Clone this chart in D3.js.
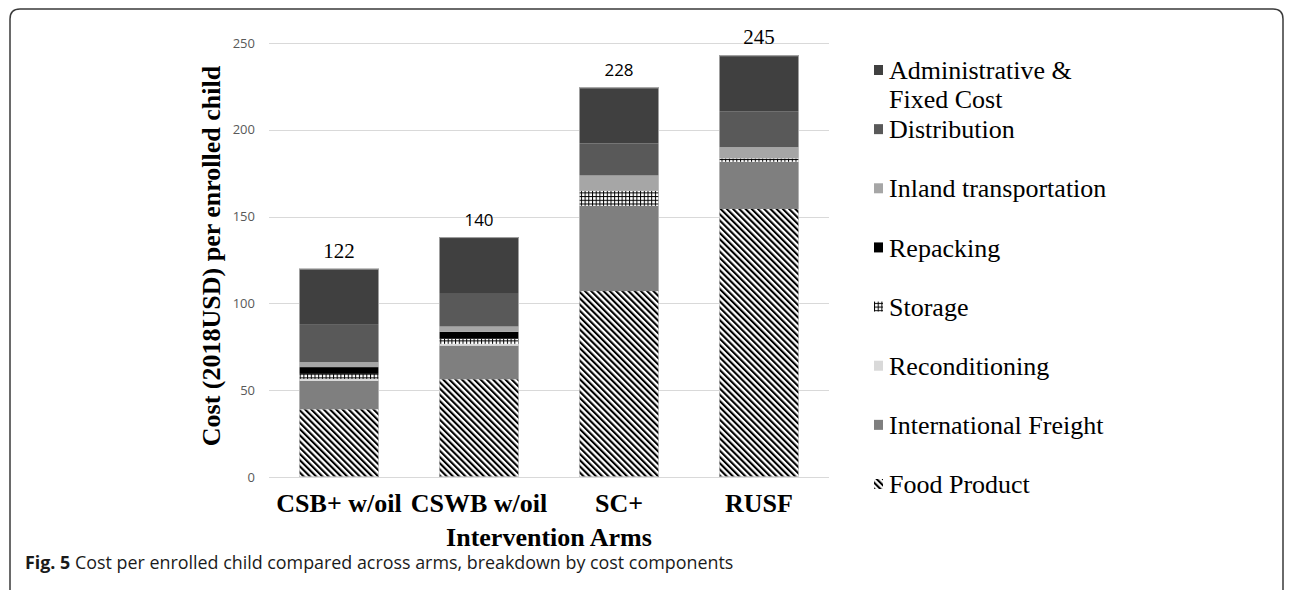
<!DOCTYPE html>
<html>
<head>
<meta charset="utf-8">
<script src="https://cdn.jsdelivr.net/npm/d3@7"></script>
<style>
  html, body { margin: 0; padding: 0; background: #fff; }
  svg { display: block; }
</style>
</head>
<body>
<svg id="chart" width="1292" height="590"></svg>
<script>
// ---------------- DATA ----------------
const categories = ["CSB+ w/oil", "CSWB w/oil", "SC+", "RUSF"];
const seriesNames = [
  "Food Product",
  "International Freight",
  "Reconditioning",
  "Storage",
  "Repacking",
  "Inland transportation",
  "Distribution",
  "Administrative & Fixed Cost"
];
const foodProduct          = [39.0, 56.3, 107.1, 154.4];
const internationalFreight = [16.3, 19.4, 49.1, 27.2];
const reconditioning       = [1.2, 1.0, 0.0, 0.0];
const storage              = [2.9, 2.9, 8.6, 1.9];
const repacking            = [3.9, 4.0, 0.0, 0.0];
const inlandTransportation = [2.9, 3.1, 8.9, 6.5];
const distribution         = [21.5, 18.8, 18.4, 20.7];
const administrativeFixed  = [32.3, 32.7, 32.3, 32.2];
const totalLabels          = [122, 140, 228, 245];
const yTicks               = [0, 50, 100, 150, 200, 250];

// ---------------- BUILD TABLE ----------------
const seriesValues = [foodProduct, internationalFreight, reconditioning, storage,
  repacking, inlandTransportation, distribution, administrativeFixed];
const table = categories.map((c, i) => {
  const row = { category: c };
  seriesNames.forEach((s, k) => row[s] = seriesValues[k][i]);
  return row;
});
const stacked = d3.stack().keys(seriesNames)(table);

// ---------------- STYLE ----------------
const fills = {
  "Food Product": "url(#patDiag)",
  "International Freight": "#7f7f7f",
  "Reconditioning": "#d9d9d9",
  "Storage": "url(#patGrid)",
  "Repacking": "#000000",
  "Inland transportation": "#a6a6a6",
  "Distribution": "#595959",
  "Administrative & Fixed Cost": "#404040"
};
const serif = "'Liberation Serif', 'Times New Roman', serif";
const sans = "'Open Sans', 'Liberation Sans', sans-serif";
const labelFonts = [serif, sans, sans, serif];
const labelSizes = [21, 17, 17, 21];

const svg = d3.select("#chart");

// patterns
const defs = svg.append("defs");
const pd = defs.append("pattern").attr("id", "patDiag")
  .attr("patternUnits", "userSpaceOnUse").attr("width", 4.4).attr("height", 4.4)
  .attr("patternTransform", "rotate(-45)");
pd.append("rect").attr("width", 4.4).attr("height", 4.4).attr("fill", "#fff");
pd.append("rect").attr("width", 2.1).attr("height", 4.4).attr("fill", "#000");

const pg = defs.append("pattern").attr("id", "patGrid")
  .attr("patternUnits", "userSpaceOnUse").attr("width", 3.7).attr("height", 3.7);
pg.append("rect").attr("width", 3.7).attr("height", 3.7).attr("fill", "#fff");
pg.append("rect").attr("width", 1).attr("height", 3.7).attr("fill", "#000");
pg.append("rect").attr("width", 3.7).attr("height", 1).attr("fill", "#000");

// frame
svg.append("path")
  .attr("d", "M10,600 L10,19 Q10,9 20,9 L1273,9 Q1283,9 1283,19 L1283,600")
  .attr("fill", "none").attr("stroke", "#3a3a3a").attr("stroke-width", 1.5);

// scales
const x = d3.scaleBand().domain(categories).range([269, 829])
  .paddingInner(0.4286).paddingOuter(0.2143);
const y = d3.scaleLinear().domain([0, 250]).range([477, 43]);

// gridlines
svg.append("g").selectAll("line").data(yTicks).join("line")
  .attr("x1", 269).attr("x2", 829)
  .attr("y1", d => Math.round(y(d)) + 0.5).attr("y2", d => Math.round(y(d)) + 0.5)
  .attr("stroke", "#d9d9d9").attr("stroke-width", 1);

// y axis (labels only)
const yAxis = d3.axisLeft(y).tickValues(yTicks).tickSize(0).tickPadding(0);
const gy = svg.append("g").attr("transform", "translate(255,0)").call(yAxis);
gy.select(".domain").remove();
gy.selectAll("text").attr("font-family", sans).attr("font-size", 13)
  .attr("fill", "#595959");

// bars
svg.append("g").selectAll("g").data(stacked).join("g")
  .attr("fill", d => fills[d.key])
  .selectAll("rect").data(d => d.map(p => ({ key: d.key, p }))).join("rect")
  .attr("x", d => x(d.p.data.category))
  .attr("width", x.bandwidth())
  .attr("y", d => y(d.p[1]))
  .attr("height", d => Math.max(0, y(d.p[0]) - y(d.p[1])));

// bar outline
svg.append("g").selectAll("rect").data(table).join("rect")
  .attr("x", d => x(d.category) + 0.5)
  .attr("width", x.bandwidth() - 1)
  .attr("y", d => y(d3.sum(seriesNames, s => d[s])) + 0.5)
  .attr("height", d => y(0) - y(d3.sum(seriesNames, s => d[s])) - 1)
  .attr("fill", "none").attr("stroke", "#c8c8c8").attr("stroke-width", 1)
  .attr("stroke-opacity", 0.7);

// total labels
svg.append("g").selectAll("text").data(table).join("text")
  .attr("x", d => x(d.category) + x.bandwidth() / 2)
  .attr("y", d => y(d3.sum(seriesNames, s => d[s])) - 11)
  .attr("text-anchor", "middle")
  .attr("font-family", (d, i) => labelFonts[i])
  .attr("font-size", (d, i) => labelSizes[i])
  .attr("fill", "#000")
  .text((d, i) => totalLabels[i]);

// x axis category labels
const xAxis = d3.axisBottom(x).tickSize(0).tickPadding(0);
const gx = svg.append("g").attr("transform", "translate(0,494)").call(xAxis);
gx.select(".domain").remove();
gx.selectAll("text").attr("font-family", serif).attr("font-size", 26)
  .attr("font-weight", "bold").attr("fill", "#000").attr("dy", "0.71em");

// axis titles
svg.append("text").attr("x", 549).attr("y", 546).attr("text-anchor", "middle")
  .attr("font-family", serif).attr("font-size", 26).attr("font-weight", "bold")
  .text("Intervention Arms");
svg.append("text")
  .attr("transform", "translate(220,256) rotate(-90)")
  .attr("text-anchor", "middle")
  .attr("font-family", serif).attr("font-size", 26).attr("font-weight", "bold")
  .text("Cost (2018USD) per enrolled child");

// legend
const legendOrder = seriesNames.slice().reverse();
const ly = d3.scalePoint().domain(legendOrder).range([70, 484]);
const lg = svg.append("g").selectAll("g").data(legendOrder).join("g")
  .attr("transform", d => `translate(874,${ly(d)})`);
lg.append("rect").attr("x", 0).attr("y", -5).attr("width", 9).attr("height", 10)
  .attr("fill", d => fills[d]);
lg.append("text").attr("x", 15).attr("y", 0).attr("dy", "0.35em")
  .attr("font-family", serif).attr("font-size", 26).attr("fill", "#000")
  .each(function(d) {
    const t = d3.select(this);
    if (d === "Administrative & Fixed Cost") {
      t.append("tspan").attr("x", 15).text("Administrative &");
      t.append("tspan").attr("x", 15).attr("dy", "1.13em").text("Fixed Cost");
    } else {
      t.text(d);
    }
  });

// caption
const cap = svg.append("text").attr("x", 25).attr("y", 569)
  .attr("font-family", sans).attr("font-size", 16).attr("fill", "#1a1a1a");
cap.append("tspan").attr("font-weight", "bold").text("Fig. 5");
cap.append("tspan").text(" Cost per enrolled child compared across arms, breakdown by cost components");
const capLen = cap.node().getComputedTextLength();
cap.attr("font-size", 16 * 709 / capLen);
</script>
</body>
</html>
